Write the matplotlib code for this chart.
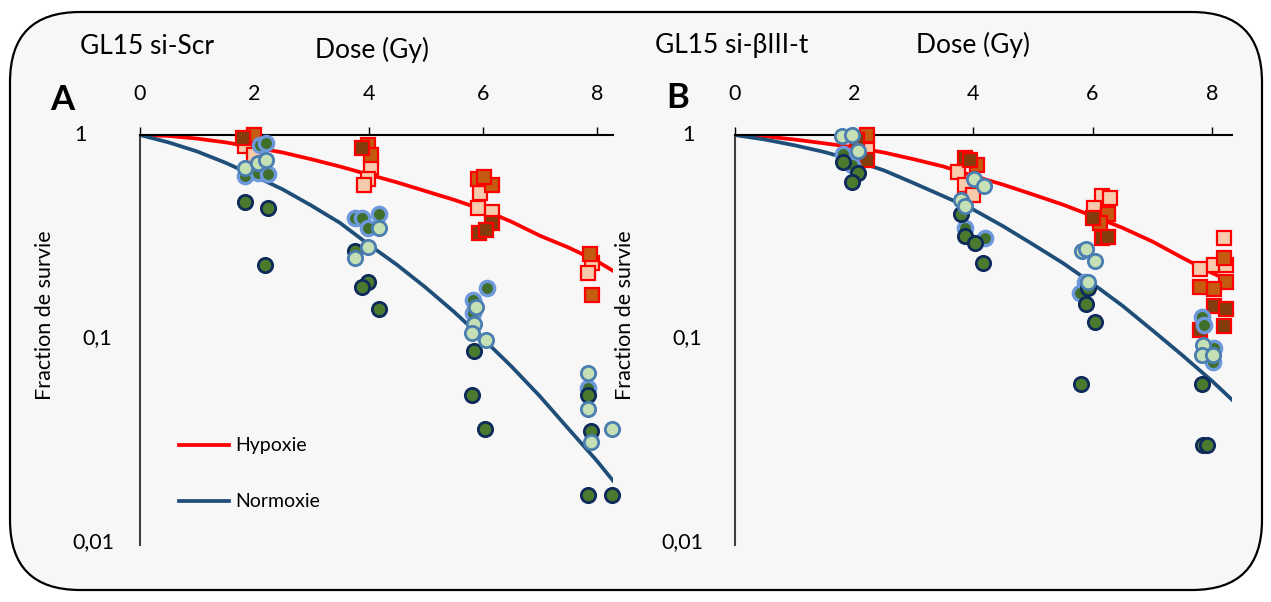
import matplotlib
matplotlib.use("Agg")
import matplotlib.pyplot as plt
from matplotlib.patches import FancyBboxPatch
from matplotlib.transforms import blended_transform_factory

plt.rcParams['font.family'] = ['Lato', 'DejaVu Sans']

# ---- data (dose in Gy, surviving fraction) ----
# fitted curves, read every 0.5 Gy
curve_dose_a = [0, 0.5, 1, 1.5, 2, 2.5, 3, 3.5, 4, 4.5, 5, 5.5, 6, 6.5, 7, 7.5, 8, 8.28]
a_hyp_frac = [1, 0.99, 0.96, 0.92, 0.87, 0.82, 0.76, 0.70, 0.64, 0.585, 0.53, 0.48,
              0.43, 0.375, 0.32, 0.28, 0.24, 0.215]
a_nor_frac = [1, 0.92, 0.83, 0.73, 0.63, 0.54, 0.45, 0.37, 0.29, 0.23, 0.178, 0.135,
              0.10, 0.073, 0.052, 0.036, 0.025, 0.020]
curve_dose_b = [0, 0.5, 1, 1.5, 2, 2.5, 3, 3.5, 4, 4.5, 5, 5.5, 6, 6.5, 7, 7.5, 8, 8.34]
b_hyp_frac = [1, 0.985, 0.95, 0.91, 0.87, 0.82, 0.76, 0.70, 0.63, 0.57, 0.51, 0.455,
              0.40, 0.35, 0.30, 0.25, 0.21, 0.19]
b_nor_frac = [1, 0.95, 0.89, 0.825, 0.75, 0.67, 0.58, 0.50, 0.43, 0.356, 0.29, 0.235,
              0.186, 0.145, 0.11, 0.083, 0.062, 0.050]

# hypoxia replicates (squares)
a_peach = [(1.84, 0.88), (2.0, 0.80), (4.04, 0.70), (3.99, 0.61), (3.92, 0.57),
           (5.96, 0.52), (5.92, 0.44), (6.16, 0.42), (7.92, 0.235), (7.85, 0.21)]
a_orange = [(2.0, 1.0), (3.99, 0.89), (4.04, 0.80), (5.92, 0.61), (6.16, 0.57),
            (6.03, 0.62), (7.88, 0.26), (7.92, 0.164)]
a_brown = [(1.8, 0.97), (3.88, 0.86), (6.16, 0.37), (5.94, 0.33), (6.05, 0.34)]
b_peach = [(2.21, 0.84), (3.74, 0.66), (3.86, 0.57), (3.99, 0.51), (6.16, 0.50),
           (6.29, 0.49), (6.02, 0.44), (8.2, 0.31), (7.8, 0.22), (8.04, 0.23), (8.24, 0.23)]
b_orange = [(2.21, 1.0), (4.06, 0.71), (6.26, 0.41), (6.12, 0.37), (8.2, 0.25),
            (8.24, 0.19), (7.8, 0.18), (8.04, 0.175)]
b_brown = [(2.05, 0.95), (2.21, 0.75), (3.86, 0.77), (3.94, 0.75), (6.01, 0.39),
           (6.16, 0.31), (6.26, 0.315), (8.04, 0.145), (8.24, 0.14), (8.2, 0.115), (7.8, 0.11)]

# normoxia replicates (circles)
a_light = [(1.84, 0.69), (2.07, 0.73), (2.2, 0.75), (4.19, 0.35), (3.77, 0.25),
           (3.99, 0.28), (5.88, 0.143), (5.85, 0.118), (5.82, 0.106), (6.06, 0.098),
           (7.85, 0.068), (7.85, 0.045), (7.9, 0.031), (8.27, 0.036)]
a_glow = [(2.1, 0.89), (2.2, 0.91), (1.84, 0.63), (2.07, 0.65), (2.24, 0.64),
          (3.77, 0.39), (3.89, 0.39), (4.19, 0.41), (3.99, 0.35), (5.83, 0.155),
          (6.08, 0.177), (5.83, 0.133), (7.85, 0.057)]
a_navy = [(1.84, 0.47), (2.24, 0.44), (2.19, 0.23), (3.77, 0.27), (3.99, 0.19),
          (3.89, 0.18), (4.19, 0.14), (5.85, 0.087), (5.81, 0.053), (6.04, 0.036),
          (7.85, 0.053), (7.9, 0.035), (7.85, 0.017), (8.27, 0.017)]
b_light = [(1.8, 0.99), (1.96, 1.0), (2.06, 0.83), (4.01, 0.61), (4.18, 0.56),
           (3.79, 0.48), (3.86, 0.45), (5.82, 0.27), (5.89, 0.275), (6.04, 0.24),
           (5.92, 0.19), (7.85, 0.093), (7.84, 0.083), (8.02, 0.083)]
b_glow = [(1.81, 0.81), (1.96, 0.71), (3.86, 0.35), (4.19, 0.31), (5.88, 0.19),
          (5.79, 0.167), (7.84, 0.128), (7.87, 0.117), (8.04, 0.09), (8.02, 0.077)]
b_navy = [(1.81, 0.74), (2.06, 0.65), (1.96, 0.59), (3.79, 0.41), (3.86, 0.32),
          (4.03, 0.295), (4.16, 0.235), (5.92, 0.177), (5.89, 0.148), (6.04, 0.12),
          (5.81, 0.060), (7.84, 0.060), (7.85, 0.030), (7.92, 0.030)]

xticks = [0, 2, 4, 6, 8]
yticks = [1, 0.1, 0.01]
ylabels = ['1', '0,1', '0,01']

W, H = 1271, 602
fig = plt.figure(figsize=(W / 100, H / 100), dpi=100)
fig.patch.set_facecolor('white')

box = FancyBboxPatch((0.10, 0.12), 12.52, 5.78, boxstyle="round,pad=0,rounding_size=0.7",
                     transform=fig.dpi_scale_trans, facecolor='#f7f7f7', edgecolor='black',
                     linewidth=1.6, zorder=0)
fig.add_artist(box)

RED = '#ff0000'
NAVY = '#1f4e79'


def squares(ax, pts, fill):
    ax.plot([p[0] for p in pts], [p[1] for p in pts], ls='none', marker='s', ms=9.5,
            mfc=fill, mec=RED, mew=1.6, clip_on=False, zorder=3)


def circles(ax, pts, fill, edge, ew):
    ax.plot([p[0] for p in pts], [p[1] for p in pts], ls='none', marker='o', ms=10.3,
            mfc=fill, mec=edge, mew=ew, clip_on=False, zorder=4)


def panel(left_px, right_px, xmax, dose, hyp, nor, peach, orange, brown, light, glow, navy,
          ylab_x, label_x):
    ax = fig.add_axes([left_px / W, 1 - 545 / H, (right_px - left_px) / W, 410 / H])
    ax.set_facecolor('none')
    ax.set_yscale('log')
    ax.set_ylim(0.00966, 1)
    ax.set_xlim(0, xmax)
    for s in ['right', 'bottom']:
        ax.spines[s].set_visible(False)
    ax.spines['top'].set_linewidth(1.5)
    ax.spines['left'].set_linewidth(1.5)
    ax.spines['left'].set_color('#404040')
    ax.xaxis.tick_top()
    ax.set_xticks(xticks)
    ax.set_xticklabels([str(t) for t in xticks], fontsize=15.5)
    ax.tick_params(axis='x', direction='out', length=6, width=1, pad=16)
    ax.set_yticks(yticks)
    ax.set_yticklabels([])
    ax.yaxis.set_minor_locator(plt.NullLocator())
    ax.tick_params(axis='y', length=0)
    tr = blended_transform_factory(fig.transFigure, ax.transData)
    for v, lab, xp in zip(yticks, ylabels, ylab_x):
        ax.text(xp / W, v, lab, transform=tr, ha='center', va='center', fontsize=15.5)
    ax.text(label_x / W, 1 - 315 / H, 'Fraction de survie', transform=fig.transFigure,
            rotation=90, ha='center', va='center', fontsize=15.5)

    lh, = ax.plot(dose, hyp, color=RED, lw=2.7, zorder=2, label='Hypoxie',
                  solid_joinstyle='round')
    ln, = ax.plot(dose, nor, color=NAVY, lw=2.7, zorder=2, label='Normoxie',
                  solid_joinstyle='round')
    squares(ax, peach, '#f8cbad')
    squares(ax, orange, '#c55a11')
    squares(ax, brown, '#843c0c')
    circles(ax, glow, '#3f6f2a', '#6d98dc', 2.4)
    circles(ax, navy, '#4a7a2e', '#0e2a5a', 2.0)
    circles(ax, light, '#c5e0b4', '#4a7eb0', 2.0)
    return ax, lh, ln


axA, lh, ln = panel(140, 613, 8.28, curve_dose_a, a_hyp_frac, a_nor_frac,
                    a_peach, a_orange, a_brown, a_light, a_glow, a_navy,
                    [80, 97, 93], 45)
axB, _, _ = panel(735, 1232, 8.34, curve_dose_b, b_hyp_frac, b_nor_frac,
                  b_peach, b_orange, b_brown, b_light, b_glow, b_navy,
                  [688, 687, 682], 625)

axA.legend(handles=[lh, ln], loc='upper left', bbox_to_anchor=(0.045, 0.305), frameon=False,
           fontsize=14, handlelength=2.6, labelspacing=2.0, handletextpad=0.3)

fig.text(80 / W, 1 - 46 / H, 'GL15 si-Scr', fontsize=19, ha='left', va='center')
fig.text(372 / W, 1 - 50 / H, 'Dose (Gy)', fontsize=19, ha='center', va='center')
fig.text(655 / W, 1 - 46 / H, 'GL15 si-βIII-t', fontsize=19, ha='left', va='center')
fig.text(973 / W, 1 - 45 / H, 'Dose (Gy)', fontsize=19, ha='center', va='center')
fig.text(62 / W, 1 - 100 / H, 'A', fontsize=25, fontweight='bold', ha='center', va='center')
fig.text(678 / W, 1 - 98 / H, 'B', fontsize=25, fontweight='bold', ha='center', va='center')

fig.savefig('out.png', dpi=100)
